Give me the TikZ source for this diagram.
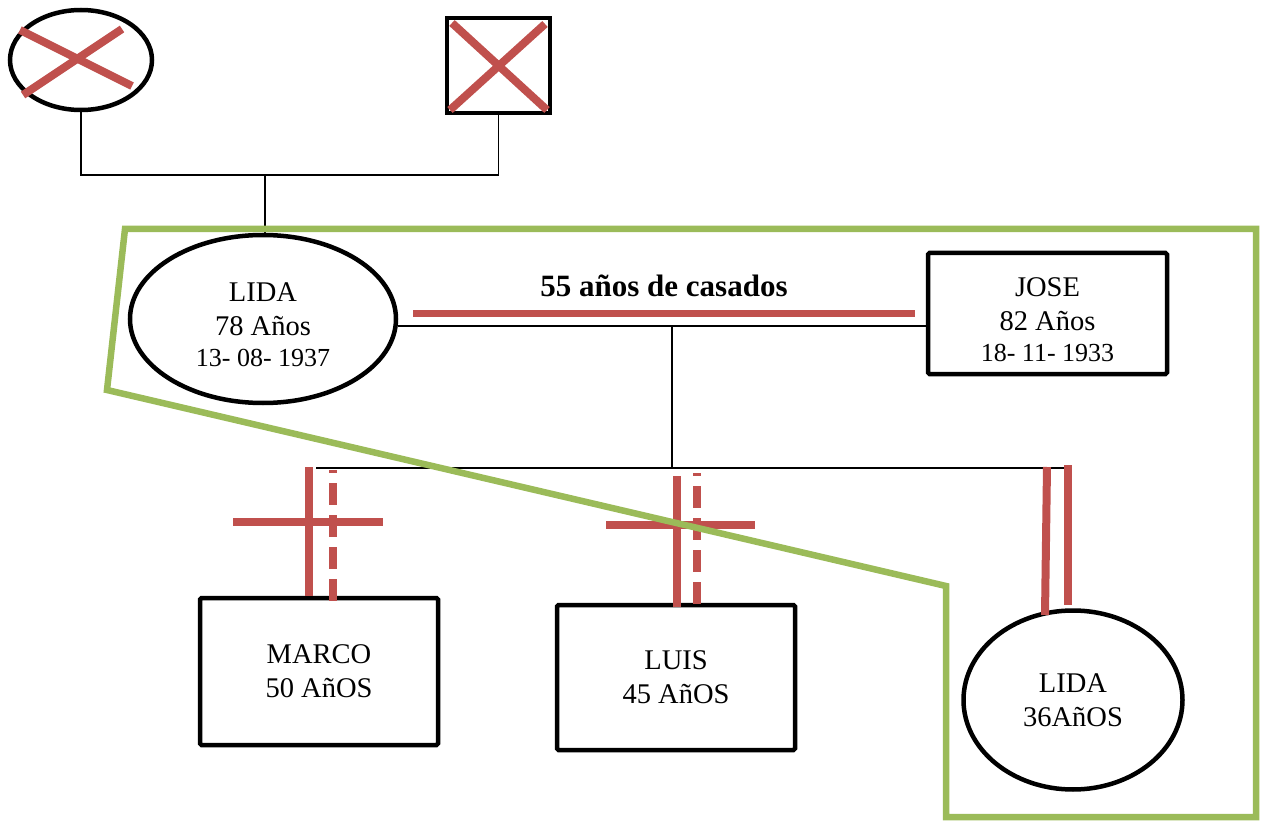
\documentclass[tikz,border=0pt]{standalone}
\usepackage{fontspec}
\setmainfont{Liberation Serif}
\usetikzlibrary{shapes.geometric}
\definecolor{xred}{HTML}{C0504D}
\definecolor{xgreen}{HTML}{9BBB59}
\newcommand{\datesz}{\fontsize{26}{30}\selectfont}
\begin{document}
\begin{tikzpicture}[x=1pt,y=-1pt,
  txt/.style={font=\fontsize{28.5}{34}\selectfont, align=center},
  ellnode/.style={ellipse, draw=black, line width=4.5, inner sep=0, txt},
  boxnode/.style={rectangle, draw=black, line width=4.5, inner sep=0, rounded corners=1.5, txt},
  thin/.style={draw=black, line width=1.6},
  redbar/.style={draw=xred, line width=8},
  reddash/.style={draw=xred, line width=8, dash pattern=on 22 off 10, dash phase=19},
  greenline/.style={draw=xgreen, line width=6.5, line join=miter}]
\useasboundingbox (0,0) rectangle (1262,821);
% grandparents
\node[ellnode, minimum width=142, minimum height=100] (gm) at (81,60) {};
\node[boxnode, minimum width=103, minimum height=95, rounded corners=0] (gf) at (498.5,65.5) {};
\draw[redbar] (20,30) -- (132,86);
\draw[redbar] (23,95) -- (122,29);
\draw[redbar] (452,23) -- (547,110);
\draw[redbar] (450,110) -- (545,24);
\coordinate (pbar) at (265,175);
\draw[thin] (gm.south) |- (pbar) -| (gf.south);
% parents
\node[ellnode, minimum width=266, minimum height=168] (lida) at (263,319) {};
\node[txt] (lidat) at ([yshift=-6pt]lida.center) {LIDA\\78 Años\\[-3pt]{\datesz 13- 08- 1937}};
\node[boxnode, minimum width=239, minimum height=121] (jose) at (1047.5,313.5) {};
\node[txt] (joset) at ([yshift=-6pt]jose.center) {JOSE\\82 Años\\[-3pt]{\datesz 18- 11- 1933}};
\draw[thin] (pbar) -- (pbar |- lida.north);
\coordinate (mid) at (672,326);
\draw[thin] (lida.east |- mid) -- (jose.west |- mid);
\node[font=\fontsize{31}{36}\selectfont\bfseries] (lbl) at (664,286) {55 años de casados};
\draw[draw=xred, line width=7] (413,314) -- (915,314);
% sibship
\coordinate (sibL) at (316,468);
\coordinate (sibR) at (1066,468);
\draw[thin] (mid) -- (mid |- sibL);
\draw[thin] (sibL) -- (sibR);
% children
\node[boxnode, minimum width=238, minimum height=147] (c1) at (319,671.5) {MARCO\\50 AñOS};
\node[boxnode, minimum width=238, minimum height=145] (c2) at (676,677.5) {LUIS\\45 AñOS};
\node[ellnode, minimum width=219, minimum height=179] (c3) at (1073,700) {LIDA\\36AñOS};
% child 1 marks
\coordinate (m1) at (309,467);
\draw[redbar] (m1) -- (m1 |- c1.north);
\draw[reddash] (333,470) -- (333,602);
\draw[redbar] (233,522) -- (383,522);
% child 2 marks
\draw[redbar] (677,476) -- (677,607);
\draw[reddash] (697,473) -- (697,605);
\draw[redbar] (606,525) -- (755,525);
% child 3 marks
\draw[redbar] (1047,467) -- (1045,615);
\draw[redbar] (1068,465) -- (1068,605);
% green outline
\draw[greenline] (125,229) -- (1256,229) -- (1256,817) -- (946,817) -- (946,586) -- (107,390) -- cycle;
\end{tikzpicture}
\end{document}
